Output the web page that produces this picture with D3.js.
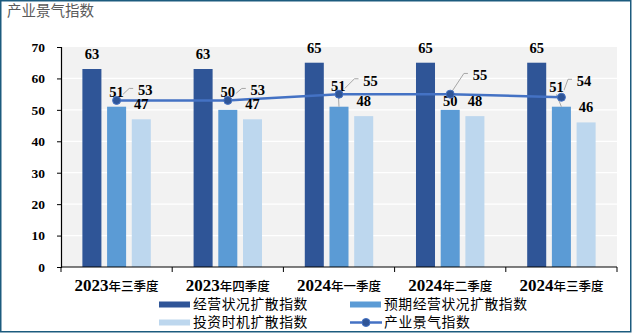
<!DOCTYPE html>
<html>
<head>
<meta charset="utf-8">
<script src="https://cdn.jsdelivr.net/npm/d3@7/dist/d3.min.js"></script>
<style>
  html, body { margin: 0; padding: 0; background: #fff; }
  svg { display: block; }
</style>
</head>
<body>
<svg id="chart" width="632" height="335"></svg>
<script>
// ---- data ----
const title = "产业景气指数";
const quarterYears = ["2023", "2023", "2024", "2024", "2024"];
const quarterNames = ["年三季度", "年四季度", "年一季度", "年二季度", "年三季度"];
const categories = quarterYears.map((y, i) => y + quarterNames[i]);
const seriesNames = ["经营状况扩散指数", "预期经营状况扩散指数", "投资时机扩散指数"];
const businessIndex = [63, 63, 65, 65, 65];
const expectedIndex = [51, 50, 51, 50, 51];
const investIndex = [47, 47, 48, 48, 46];
const lineName = "产业景气指数";
const prosperityIndex = [53, 53, 55, 55, 54];
const yTicks = [0, 10, 20, 30, 40, 50, 60, 70];

// ---- layout ----
const plot = { left: 61, right: 617, top: 47, bottom: 267 };
const colors = ["#2f5597", "#5b9bd5", "#bdd7ee"];
const lineColor = "#4472c4";
const numFont = "'Liberation Serif', 'Times New Roman', serif";
const cjkFont = "'Noto Sans CJK SC', sans-serif";

const svg = d3.select("#chart");

// outer frame
svg.append("rect")
  .attr("x", 0.75).attr("y", 0.75)
  .attr("width", 630).attr("height", 331)
  .attr("fill", "#fff").attr("stroke", "#1c5b7e").attr("stroke-width", 1.5);

// title
svg.append("text")
  .attr("x", 7).attr("y", 15.5)
  .attr("font-family", cjkFont).attr("font-size", 14.5)
  .attr("fill", "#595959")
  .text(title);

// scales
const x0 = d3.scaleBand().domain(categories).range([plot.left, plot.right]).paddingInner(0).paddingOuter(0);
const x1 = d3.scaleBand().domain(seriesNames).range([0, x0.bandwidth()]).paddingInner(0.23).paddingOuter(0.866);
const y = d3.scaleLinear().domain([0, 70]).range([plot.bottom, plot.top]);

// plot background
svg.append("rect")
  .attr("x", plot.left).attr("y", plot.top)
  .attr("width", plot.right - plot.left).attr("height", plot.bottom - plot.top)
  .attr("fill", "#f2f2f2");

// gridlines
svg.append("g").selectAll("line")
  .data(yTicks.filter(t => t > 0 && t < 70))
  .join("line")
  .attr("x1", plot.left).attr("x2", plot.right)
  .attr("y1", d => y(d)).attr("y2", d => y(d))
  .attr("stroke", "#ffffff").attr("stroke-width", 1.2);

// bars
const seriesValues = [businessIndex, expectedIndex, investIndex];
const barGroups = svg.append("g");
seriesNames.forEach((name, s) => {
  barGroups.append("g").selectAll("rect")
    .data(categories.map((c, i) => ({ c, v: seriesValues[s][i] })))
    .join("rect")
    .attr("x", d => x0(d.c) + x1(name))
    .attr("width", x1.bandwidth())
    .attr("y", d => y(d.v))
    .attr("height", d => y(0) - y(d.v))
    .attr("fill", colors[s]);
});

// axes
const yAxis = d3.axisLeft(y).tickValues(yTicks).tickSize(4).tickPadding(12);
const gy = svg.append("g").attr("transform", `translate(${plot.left},0)`).call(yAxis);
gy.select(".domain").attr("stroke", "#000").attr("stroke-width", 1.2);
gy.selectAll(".tick line").attr("stroke", "#000");
gy.selectAll(".tick text")
  .attr("font-family", numFont).attr("font-size", 13.5)
  .attr("font-weight", "bold").attr("fill", "#000");

const gx = svg.append("g").attr("transform", `translate(0,${plot.bottom})`);
gx.append("line")
  .attr("x1", plot.left).attr("x2", plot.right)
  .attr("stroke", "#000").attr("stroke-width", 1.2);
const bounds = categories.map(c => x0(c)).concat([plot.right]);
gx.selectAll("line.tk").data(bounds).join("line").attr("class", "tk")
  .attr("x1", d => d).attr("x2", d => d)
  .attr("y1", 0).attr("y2", 5)
  .attr("stroke", "#000");

const catLabels = gx.selectAll("text.cat").data(categories).join("text")
  .attr("class", "cat")
  .attr("x", d => x0(d) + x0.bandwidth() / 2)
  .attr("y", 24)
  .attr("text-anchor", "middle")
  .attr("fill", "#000");
catLabels.append("tspan")
  .attr("font-family", numFont).attr("font-size", 17).attr("font-weight", "bold")
  .text((d, i) => quarterYears[i]);
catLabels.append("tspan")
  .attr("font-family", cjkFont).attr("font-size", 12.5).attr("font-weight", 500)
  .text((d, i) => quarterNames[i]);

// point positions of the prosperity line
const cx = i => x0(categories[i]) + x0.bandwidth() / 2;
const pts = prosperityIndex.map((v, i) => ({ x: cx(i), y: y(v), v }));

// label placement of the line values, relative to their point
const lineLabelShift = [[28.6, -5], [30, -5], [31.5, -8.4], [29.7, -13.7], [22.6, -11]];
// label placement of the expected-index values, relative to bar top
const midLabelShift = [[0, -9.7], [0, -12.9], [-0.7, -15.3], [0, -3.7], [-5, -14.3]];

const labelStyle = sel => sel
  .attr("font-family", numFont).attr("font-size", 14.5)
  .attr("font-weight", "bold").attr("fill", "#000")
  .attr("text-anchor", "middle");

// leader lines for the line labels
const leaders = svg.append("g")
  .attr("fill", "none").attr("stroke", "#a6a6a6").attr("stroke-width", 1);
pts.forEach((p, i) => {
  const [dx, dy] = lineLabelShift[i];
  const lx = p.x + dx - 8;             // left edge of label
  const ly = p.y + dy - 7;             // label mid height
  const elbow = [lx - 8, ly];
  leaders.append("path").attr("d", d3.line()([[p.x, p.y], elbow, [lx - 4, ly]]));
});
// leaders for displaced expected-index labels (bar top to label)
[2, 4].forEach(i => {
  const bx = x0(categories[i]) + x1(seriesNames[1]) + x1.bandwidth() / 2;
  const by = y(expectedIndex[i]);
  const [dx, dy] = midLabelShift[i];
  leaders.append("line")
    .attr("x1", bx).attr("y1", by)
    .attr("x2", bx + dx).attr("y2", by + dy + 2);
});

// expected-index labels, with a halo so leader lines pass behind them
svg.append("g").selectAll("text")
  .data(expectedIndex)
  .join("text")
  .call(labelStyle)
  .attr("x", (v, i) => x0(categories[i]) + x1(seriesNames[1]) + x1.bandwidth() / 2 + midLabelShift[i][0])
  .attr("y", (v, i) => y(v) + midLabelShift[i][1])
  .attr("stroke", "#f2f2f2").attr("stroke-width", 3).attr("paint-order", "stroke")
  .text(v => v);

// prosperity line
svg.append("path")
  .datum(pts)
  .attr("d", d3.line().x(d => d.x).y(d => d.y))
  .attr("fill", "none").attr("stroke", lineColor).attr("stroke-width", 2.5);
svg.append("g").selectAll("circle")
  .data(pts).join("circle")
  .attr("cx", d => d.x).attr("cy", d => d.y).attr("r", 4)
  .attr("fill", "#2f5597").attr("stroke", lineColor).attr("stroke-width", 1);

// business & investment labels
svg.append("g").selectAll("text")
  .data(businessIndex).join("text").call(labelStyle)
  .attr("x", (v, i) => x0(categories[i]) + x1(seriesNames[0]) + x1.bandwidth() / 2)
  .attr("y", v => y(v) - 10)
  .text(v => v);
svg.append("g").selectAll("text")
  .data(investIndex).join("text").call(labelStyle)
  .attr("x", (v, i) => x0(categories[i]) + x1(seriesNames[2]) + x1.bandwidth() / 2)
  .attr("y", v => y(v) - 10.5)
  .text(v => v);

// line labels
svg.append("g").selectAll("text")
  .data(pts).join("text").call(labelStyle)
  .attr("x", (d, i) => d.x + lineLabelShift[i][0])
  .attr("y", (d, i) => d.y + lineLabelShift[i][1])
  .text(d => d.v);

// legend
const legend = svg.append("g")
  .attr("font-family", cjkFont).attr("font-size", 13.8).attr("fill", "#000");
const legendItems = [
  { name: seriesNames[0], kind: "bar", color: colors[0], x: 159, y: 304.5 },
  { name: seriesNames[1], kind: "bar", color: colors[1], x: 350, y: 304.5 },
  { name: seriesNames[2], kind: "bar", color: colors[2], x: 159, y: 322.5 },
  { name: lineName, kind: "line", color: lineColor, x: 350, y: 322.5 }
];
legendItems.forEach(it => {
  const g = legend.append("g").attr("transform", `translate(${it.x},${it.y})`);
  if (it.kind === "bar") {
    g.append("rect").attr("x", 0).attr("y", -3).attr("width", 31).attr("height", 6).attr("fill", it.color);
  } else {
    g.append("line").attr("x1", 0).attr("x2", 32).attr("stroke", it.color).attr("stroke-width", 2.5);
    g.append("circle").attr("cx", 16).attr("r", 4).attr("fill", "#2f5597").attr("stroke", it.color);
  }
  g.append("text").attr("x", 34).attr("y", 0).attr("dy", "0.36em")
    .attr("textLength", it.name.length * 14.3).attr("lengthAdjust", "spacing")
    .text(it.name);
});
</script>
</body>
</html>
